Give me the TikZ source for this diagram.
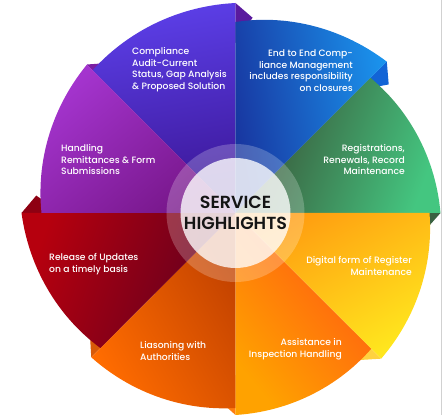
\documentclass[tikz,border=0pt]{standalone}
\usepackage{fontspec}
\setmainfont{Poppins}[UprightFont=* Medium, BoldFont=* SemiBold]

\definecolor{indigoout}{HTML}{5C3FE8}
\definecolor{indigoin}{HTML}{3A1594}
\definecolor{indigoflap}{HTML}{5A1A9E}
\definecolor{blueout}{HTML}{1A92EC}
\definecolor{bluein}{HTML}{1836A0}
\definecolor{blueflap}{HTML}{1264D6}
\definecolor{greenout}{HTML}{44C680}
\definecolor{greenin}{HTML}{394E34}
\definecolor{greenflap}{HTML}{3A6242}
\definecolor{yellowout}{HTML}{FFE61E}
\definecolor{yellowin}{HTML}{FF9C10}
\definecolor{yellowflap}{HTML}{FFD240}
\definecolor{assistout}{HTML}{FFA200}
\definecolor{assistin}{HTML}{FF5812}
\definecolor{assistflap}{HTML}{FF7E10}
\definecolor{liaisonout}{HTML}{FF6C00}
\definecolor{liaisonin}{HTML}{C24200}
\definecolor{liaisonflap}{HTML}{D85A08}
\definecolor{redout}{HTML}{B6000E}
\definecolor{redin}{HTML}{5E0020}
\definecolor{redflap}{HTML}{8E0012}
\definecolor{purpleout}{HTML}{A434CE}
\definecolor{purplein}{HTML}{761688}
\definecolor{purpleflap}{HTML}{7A1EA2}

\begin{document}
\begin{tikzpicture}[x=1pt,y=1pt]
        \tikzstyle{every node}=[font=\fontsize{9.2}{11.6}\selectfont, text=white, inner sep=0pt]
        \tikzstyle{leftnote}=[anchor=west, align=left]
        \tikzstyle{rightnote}=[anchor=east, align=right]
        \useasboundingbox (-235.5,-202) rectangle (206.5,213);
        % folded flaps, under the next petal
        \foreach \b/\rb/\fc in {90/210/indigoflap, 45/214/blueflap, 0/205/greenflap,
                -45/206/yellowflap, -90/202/assistflap, -135/204/liaisonflap,
                -180/214/redflap, 135/210/purpleflap}
            \fill[\fc] (\b:\rb) -- ({\b-5}:{\rb-14}) -- (\b:{\rb-40}) -- cycle;
        % petals
        \foreach \a/\b/\ra/\rb/\ca/\cb/\ang in {135/90/202/210/indigoout/indigoin/10,
                90/45/191/214/blueout/bluein/-80, 45/0/191/205/greenout/greenin/-110,
                0/-45/194/206/yellowout/yellowin/-150, -45/-90/192/202/assistout/assistin/130,
                -90/-135/195/204/liaisonout/liaisonin/120, -135/-180/191/214/redout/redin/70,
                180/135/194/210/purpleout/purplein/40}
            \shade[top color=\ca, bottom color=\cb, shading angle=\ang]
                (0,0) -- plot[domain=\a:\b, samples=30] (\x:{\ra+(\rb-\ra)*(\a-\x)/(\a-\b)}) -- cycle;
        % hub
        \fill[white, opacity=0.22] (0,0) circle (69);
        \fill[white, opacity=0.78] (0,0) circle (55);
        \node[font=\fontsize{17.5}{21}\selectfont\bfseries, text=black!92, align=center] (hub) at (0,0) {SERVICE\\HIGHLIGHTS};
        % notes
        \node[leftnote] (audit) at (-103.5,143.5) {Compliance\\Audit-Current\\Status, Gap Analysis\\\& Proposed Solution};
        \node[rightnote] (endtoend) at (117.5,142.5) {End to End Comp-\\liance Management\\includes responsibility\\on closures};
        \node[rightnote] (registrations) at (169.5,53.5) {Registrations,\\Renewals, Record\\Maintenance};
        \node[leftnote] (remittances) at (-174.5,53.5) {Handling\\Remittances \& Form\\Submissions};
        \node[leftnote] (updates) at (-186.5,-51) {Release of Updates\\on a timely basis};
        \node[rightnote] (register) at (176.5,-53) {Digital form of Register\\Maintenance};
        \node[leftnote] (liaisoning) at (-95.5,-138) {Liasoning with\\Authorities};
        \node[rightnote] (inspection) at (106.5,-136.5) {Assistance in\\Inspection Handling};
        % frame edge
        \draw[black!18, line width=0.8pt] (205.6,-202) -- (205.6,213);
\end{tikzpicture}
\end{document}
